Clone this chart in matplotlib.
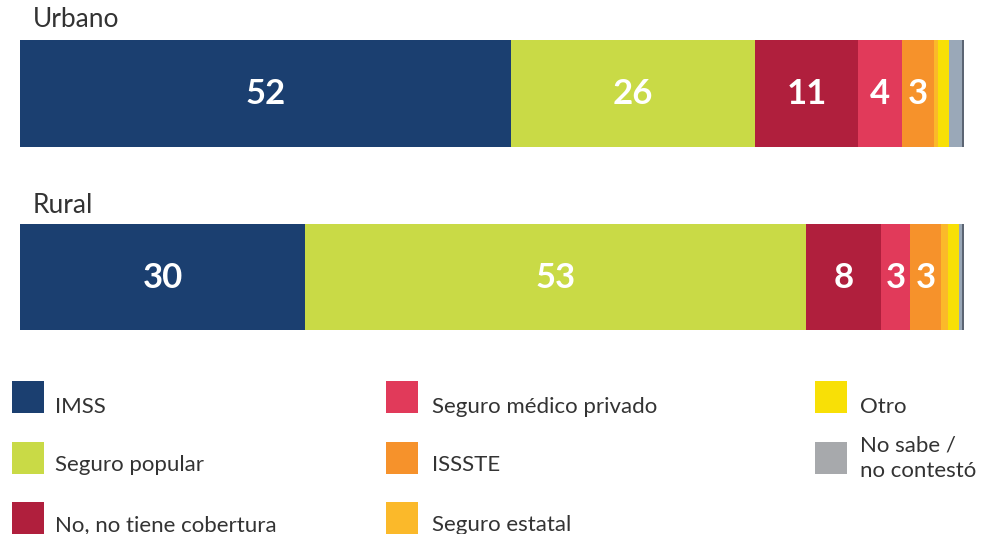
import matplotlib
matplotlib.use("Agg")
import matplotlib.pyplot as plt
from matplotlib.patches import Rectangle

plt.rcParams['font.family'] = ['Lato', 'DejaVu Sans']

# ---------------- data ----------------
groups = ["Urbano", "Rural"]
categories = ["IMSS", "Seguro popular", "No, no tiene cobertura",
              "Seguro médico privado", "ISSSTE", "Seguro estatal",
              "Otro", "No sabe /\nno contestó"]
urbano = [52.0, 25.9, 10.9, 4.6, 3.4, 0.5, 1.1, 1.6]
rural = [30.2, 53.1, 7.9, 3.1, 3.3, 0.7, 1.2, 0.5]
urbano_labels = ["52", "26", "11", "4", "3", "", "", ""]
rural_labels = ["30", "53", "8", "3", "3", "", "", ""]

colors = ["#1b3f70", "#c9da46", "#b01f3d", "#e13a5a", "#f6922b",
          "#fbb92a", "#f8e006", "#9aa8b8"]
legend_colors = ["#1b3f70", "#c9da46", "#b01f3d", "#e13a5a", "#f6922b",
                 "#fbb92a", "#f8e006", "#a7a9ac"]
edge_dark = "#5c6573"

# ---------------- layout ----------------
W, H = 989, 534
fig = plt.figure(figsize=(W / 100, H / 100), dpi=100)
fig.patch.set_facecolor("white")

bar_left, bar_right = 20, 963.8
ax = fig.add_axes([bar_left / W, 0, (bar_right - bar_left) / W, 1])
ax.set_xlim(0, 100)
ax.set_ylim(H, 0)
ax.axis("off")

bar_y = [93.5, 277]
bar_h = [107, 106]
title_base = [27, 213]

for gi, (vals, labs) in enumerate([(urbano, urbano_labels), (rural, rural_labels)]):
    left = 0.0
    for v, lab, c in zip(vals, labs, colors):
        ax.barh(bar_y[gi], v, left=left, height=bar_h[gi], color=c, linewidth=0)
        if lab:
            ax.text(left + v / 2, bar_y[gi] + 1, lab, ha="center", va="center",
                    color="white", fontsize=25, fontweight="bold")
        left += v
    # thin dark closing edge at the end of the bar
    ax.barh(bar_y[gi], 0.2, left=left - 0.2, height=bar_h[gi],
            color=edge_dark, linewidth=0)
    fig.text(33 / W, 1 - title_base[gi] / H, groups[gi], ha="left",
             va="baseline", fontsize=19, color="#333333")

# ---------------- legend ----------------
col_sq_x = [12, 386, 815]
col_txt_x = [55, 432, 860]
row_sq_top = [381, 442, 502]
sq = 32
text_base = [413, 471, 531]
fs_leg = 16
order = [(0, 0), (0, 1), (0, 2), (1, 0), (1, 1), (1, 2), (2, 0), (2, 1)]
for k, (ci, ri) in enumerate(order):
    x0 = col_sq_x[ci]
    y0 = row_sq_top[ri]
    fig.patches.append(Rectangle((x0 / W, 1 - (y0 + sq) / H), sq / W, sq / H,
                                 transform=fig.transFigure,
                                 facecolor=legend_colors[k], edgecolor="none"))
    label = categories[k]
    if "\n" in label:
        l1, l2 = label.split("\n")
        fig.text(col_txt_x[ci] / W, 1 - 452 / H, l1, ha="left", va="baseline",
                 fontsize=fs_leg, color="#333333")
        fig.text(col_txt_x[ci] / W, 1 - 477 / H, l2, ha="left", va="baseline",
                 fontsize=fs_leg, color="#333333")
    else:
        fig.text(col_txt_x[ci] / W, 1 - text_base[ri] / H, label, ha="left",
                 va="baseline", fontsize=fs_leg, color="#333333")

fig.savefig("out.png", dpi=100, facecolor="white")
